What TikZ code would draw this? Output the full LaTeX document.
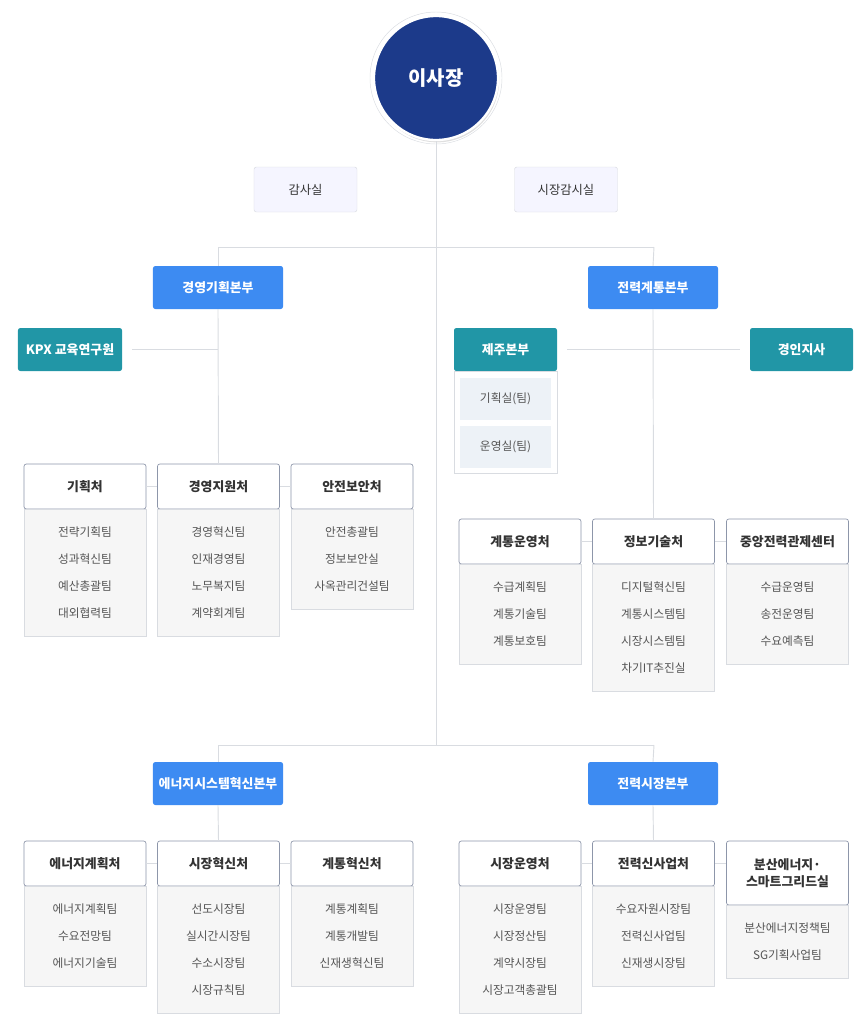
\documentclass[tikz,border=0pt]{standalone}
\usepackage{fontspec}
\setmainfont{Noto Sans CJK KR}
\usetikzlibrary{calc,shadows,positioning}
\definecolor{kpxnavy}{HTML}{1C3A8A}
\definecolor{kpxblue}{HTML}{3D8BF2}
\definecolor{kpxteal}{HTML}{2196A6}
\definecolor{kpxline}{HTML}{D9DCE1}
\definecolor{kpxedge}{HTML}{8D96AA}
\definecolor{kpxtext}{HTML}{333333}
\definecolor{kpxitem}{HTML}{555555}
\definecolor{kpxlist}{HTML}{F6F6F6}
\definecolor{kpxsub}{HTML}{EDF2F7}

% list under a department header: node, item count, items
\newcommand{\items}[3]{%
  \node[list, minimum height={(#2*27+19)*0.03cm}, below=0pt of #1] (#1-l) {};
  \foreach \t [count=\i] in {#3}
    \node[item] (#1-\i) at ($(#1-l.north)+(0,{23+27*(\i-1)})$) {\t};
}

\begin{document}
\begin{tikzpicture}[x=0.03cm, y=-0.03cm,
  head/.style={draw=kpxedge, fill=white, rounded corners=2pt, line width=0.6pt,
    minimum width=3.66cm, minimum height=1.35cm, align=center,
    font=\fontsize{11}{14}\selectfont\bfseries, text=kpxtext,
    drop shadow={opacity=0.12, shadow xshift=0pt, shadow yshift=-1pt}},
  list/.style={draw=kpxline, fill=kpxlist, minimum width=3.66cm, inner sep=0pt},
  item/.style={font=\fontsize{10}{12}\selectfont, text=kpxitem, anchor=center},
  office/.style={draw=kpxline, fill=white!96!blue, rounded corners=2pt,
    minimum width=3.09cm, minimum height=1.35cm, font=\fontsize{10.5}{12}\selectfont, text=kpxtext},
  hq/.style={fill=#1, rounded corners=2pt, minimum width=3.9cm, minimum height=1.29cm,
    font=\fontsize{11}{14}\selectfont\bfseries, text=white},
  sub/.style={fill=kpxsub, minimum width=2.73cm, minimum height=1.26cm,
    font=\fontsize{10}{12}\selectfont, text=kpxitem},
  link/.style={draw=kpxline, line width=0.8pt}
]
  \useasboundingbox (0,0) rectangle (865,1024);

  % CEO
  \node[circle, draw=kpxline, line width=0.4pt, minimum size=3.96cm] (ring) at (436,78) {};
  \node[circle, fill=kpxnavy, draw=white, line width=2pt, minimum size=3.72cm,
    font=\fontsize{17}{20}\selectfont\bfseries, text=white,
    drop shadow={opacity=0.25, shadow xshift=1pt, shadow yshift=-2pt}] (ceo) at (436,78) {이사장};

  % audit offices
  \node[office] (audit) at (305.5,189.5) {감사실};
  \node[office] (marketaudit) at (566,189.5) {시장감시실};

  % trunk
  \coordinate (top) at (436,247);
  \coordinate (low) at (436,745);
  \coordinate (topl) at (218,247);
  \coordinate (topr) at (654,247);
  \coordinate (lowl) at (218,745);
  \coordinate (lowr) at (654,745);
  \draw[link] (ceo.south) -- (low);
  \draw[link] (topl) -- (topr);
  \draw[link] (lowl) -- (lowr);

  % headquarters
  \node[hq=kpxblue] (plan) at (218,287.5) {경영기획본부};
  \node[hq=kpxblue] (grid) at (653,287.5) {전력계통본부};
  \node[hq=kpxblue] (energy) at (218,783.5) {에너지시스템혁신본부};
  \node[hq=kpxblue] (market) at (653,783.5) {전력시장본부};
  \draw[link] (topl) -- (plan.north);
  \draw[link] (topr) -- (grid.north);
  \draw[link] (lowl) -- (energy.north);
  \draw[link] (lowr) -- (market.north);

  % teal offices
  \node[hq=kpxteal, minimum width=3.12cm] (kpx) at (70,349.5) {KPX 교육연구원};
  \node[hq=kpxteal, minimum width=3.09cm] (jeju) at (505.5,349.5) {제주본부};
  \node[hq=kpxteal, minimum width=3.09cm] (gyeongin) at (801.5,349.5) {경인지사};
  \node[draw=kpxline, fill=white, minimum width=3.09cm, minimum height=3.06cm,
    below=0pt of jeju] (jejupanel) {};
  \node[sub] (jeju-1) at (505.5,399) {기획실(팀)};
  \node[sub] (jeju-2) at (505.5,447) {운영실(팀)};
  \draw[link, shorten <=10*0.03cm] (kpx.east) -- (kpx.east -| plan);
  \draw[link, shorten <=10*0.03cm, shorten >=10*0.03cm] (jeju.east) -- (gyeongin.west);

  % 경영기획본부 departments
  \node[head] (d11) at (85,486.5) {기획처};
  \node[head] (d12) at (218.5,486.5) {경영지원처};
  \node[head] (d13) at (352,486.5) {안전보안처};
  \draw[link] (plan.south) -- (d12.north);
  \draw[link] (d11.east) -- (d12.west);
  \draw[link] (d12.east) -- (d13.west);
  \items{d11}{4}{전략기획팀,성과혁신팀,예산총괄팀,대외협력팀}
  \items{d12}{4}{경영혁신팀,인재경영팀,노무복지팀,계약회계팀}
  \items{d13}{3}{안전총괄팀,정보보안실,사옥관리건설팀}

  % 전력계통본부 departments
  \node[head] (d21) at (520,541.5) {계통운영처};
  \node[head] (d22) at (653.5,541.5) {정보기술처};
  \node[head] (d23) at (787.5,541.5) {중앙전력관제센터};
  \draw[link] (grid.south) -- (d22.north);
  \draw[link] (d21.east) -- (d22.west);
  \draw[link] (d22.east) -- (d23.west);
  \items{d21}{3}{수급계획팀,계통기술팀,계통보호팀}
  \items{d22}{4}{디지털혁신팀,계통시스템팀,시장시스템팀,차기IT추진실}
  \items{d23}{3}{수급운영팀,송전운영팀,수요예측팀}

  % 에너지시스템혁신본부 departments
  \node[head] (d31) at (85,863.5) {에너지계획처};
  \node[head] (d32) at (218.5,863.5) {시장혁신처};
  \node[head] (d33) at (352,863.5) {계통혁신처};
  \draw[link] (energy.south) -- (d32.north);
  \draw[link] (d31.east) -- (d32.west);
  \draw[link] (d32.east) -- (d33.west);
  \items{d31}{3}{에너지계획팀,수요전망팀,에너지기술팀}
  \items{d32}{4}{선도시장팀,실시간시장팀,수소시장팀,시장규칙팀}
  \items{d33}{3}{계통계획팀,계통개발팀,신재생혁신팀}

  % 전력시장본부 departments
  \node[head] (d41) at (520,863.5) {시장운영처};
  \node[head] (d42) at (653.5,863.5) {전력신사업처};
  \node[head, minimum height=1.92cm] (d43) at (787.5,873) {분산에너지·\\스마트그리드실};
  \draw[link] (market.south) -- (d42.north);
  \draw[link] (d41.east) -- (d42.west);
  \draw[link] (d42.east) -- (d43.west |- d42.east);
  \items{d41}{4}{시장운영팀,시장정산팀,계약시장팀,시장고객총괄팀}
  \items{d42}{3}{수요자원시장팀,전력신사업팀,신재생시장팀}
  \items{d43}{2}{분산에너지정책팀,SG기획사업팀}
\end{tikzpicture}
\end{document}
